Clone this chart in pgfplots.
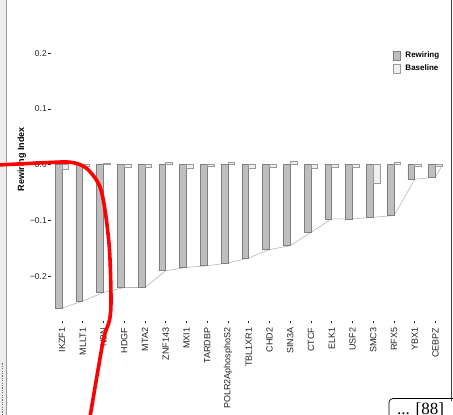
\documentclass[border=0pt]{standalone}
\usepackage{pgfplots}
\pgfplotsset{compat=1.18}
\usepackage{pgfplotstable}
\usepackage{fontspec}
\setmainfont{Liberation Sans}
\newfontfamily\serifface{Liberation Serif}

\definecolor{rewfill}{HTML}{BEBEBE}
\definecolor{rewdraw}{HTML}{7F7F7F}
\definecolor{basefill}{HTML}{EFEFEF}
\definecolor{basedraw}{HTML}{9A9A9A}
\definecolor{linkline}{HTML}{B4B4B4}
\definecolor{labelgray}{HTML}{222222}

% rewiring index and baseline per factor, position = order on the axis
\pgfplotstableread{
pos rewiring baseline
0  -0.257 -0.008
1  -0.244 -0.002
2  -0.229  0.003
3  -0.220 -0.004
4  -0.220 -0.005
5  -0.190  0.004
6  -0.184 -0.006
7  -0.181 -0.002
8  -0.176  0.004
9  -0.167 -0.006
10 -0.152 -0.004
11 -0.145  0.007
12 -0.121 -0.007
13 -0.097 -0.005
14 -0.097 -0.005
15 -0.094 -0.034
16 -0.091  0.005
17 -0.026 -0.002
18 -0.022 -0.002
}\rewtable

% outline joining the bottoms of the rewiring bars
\pgfplotstableread{
pos value
0     -0.257
1     -0.244
2     -0.229
3     -0.220
4     -0.220
5     -0.190
6     -0.184
7     -0.181
8     -0.176
9     -0.167
10    -0.152
11    -0.145
12    -0.121
13    -0.097
14    -0.097
15    -0.094
16    -0.091
17    -0.026
18    -0.022
18.33  0.000
}\outline

\begin{document}
\begin{tikzpicture}
\begin{axis}[
  scale only axis,
  width=394.9pt, height=323.6pt,
  xmin=-0.53, xmax=18.5,
  ymin=-0.28, ymax=0.30,
  axis x line*=bottom, axis y line*=left,
  axis line style={draw=none},
  tick align=outside,
  major tick length=2.5pt,
  tick style={labelgray, line width=0.6pt},
  xtick={0,...,18},
  xticklabels={IKZF1,MLLT1,NBN,HDGF,MTA2,ZNF143,MXI1,TARDBP,POLR2AphosphoS2,TBL1XR1,CHD2,SIN3A,CTCF,ELK1,USF2,SMC3,RFX5,YBX1,CEBPZ},
  xticklabel style={rotate=90, anchor=east, font=\fontsize{9}{10}\selectfont, text=labelgray, inner sep=1.5pt, xshift=-2.5pt},
  ytick={-0.2,-0.1,0,0.1,0.2,0.3},
  yticklabels={−0.2,−0.1,0.0,0.1,0.2,0.3},
  yticklabel style={font=\fontsize{8.5}{9.5}\selectfont, text=labelgray, inner sep=1.5pt},
  ylabel={\bfseries Rewiring Index},
  ylabel style={at={(axis description cs:-0.074,0.5)}, anchor=center, font=\fontsize{9}{10}\selectfont, text=black},
  legend style={at={(axis description cs:0.865,0.838)}, anchor=north west, draw=none, fill=none,
    font=\fontsize{8}{9}\selectfont\bfseries, row sep=1.5pt, inner sep=0pt,
    /tikz/every odd column/.append style={column sep=2.5pt}},
  legend cell align=left,
  legend image code/.code={\draw[#1] (0pt,-4.5pt) rectangle (7.5pt,4.5pt);},
]
\addplot[linkline, line width=0.6pt, forget plot] table[x=pos, y=value] {\outline};
\addplot[ybar, bar width=6.8pt, bar shift=-3.4pt, fill=rewfill, draw=rewdraw, line width=0.7pt]
  table[x=pos, y=rewiring] {\rewtable};
\addlegendentry{Rewiring}
\addplot[ybar, bar width=6.8pt, bar shift=3.4pt, fill=basefill, draw=basedraw, line width=0.7pt]
  table[x=pos, y=baseline] {\rewtable};
\addlegendentry{Baseline}
% lower left corner of the plotting area
\coordinate (corner) at (rel axis cs:0,0);
\end{axis}

% everything below is placed on a 453 x 415 sheet whose origin lies 51pt left of and 94pt below the plot corner
\begin{scope}[shift={(corner)}, xshift=-51pt, yshift=-94pt, x=1pt, y=1pt]
  \pgfresetboundingbox
  \path[use as bounding box] (0,0) rectangle (453,415);

  % page margin on the left
  \fill[black!7] (0,0) rectangle (6.5,415);
  \draw[black!40, line width=0.8pt] (6.5,0) -- (6.5,415);
  \draw[black!55, dash pattern=on 1.2pt off 1.2pt, line width=0.6pt] (2.5,0) -- (2.5,52);
  % frame on the right
  \draw[black!75, line width=0.8pt] (451.8,14) -- (451.8,420);

  % reference marker in the corner
  \draw[black, line width=0.7pt, rounded corners=4pt] (389,-10) rectangle (470,16.5);
  \node[anchor=base west, inner sep=0pt, font=\serifface\fontsize{17}{18}\selectfont] at (397,0.5) {... [88]};

  % hand-drawn red stroke over the chart
  \draw[red, line width=3.6pt, line cap=round] plot[smooth, tension=0.55] coordinates {
    (-2,250) (50,252.5) (70,252.8) (83,249) (92,241) (100,228) (105,205)
    (109.5,165) (111,115) (109.5,95) (104,78) (98,45) (90,-2)};
\end{scope}
\end{tikzpicture}
\end{document}
